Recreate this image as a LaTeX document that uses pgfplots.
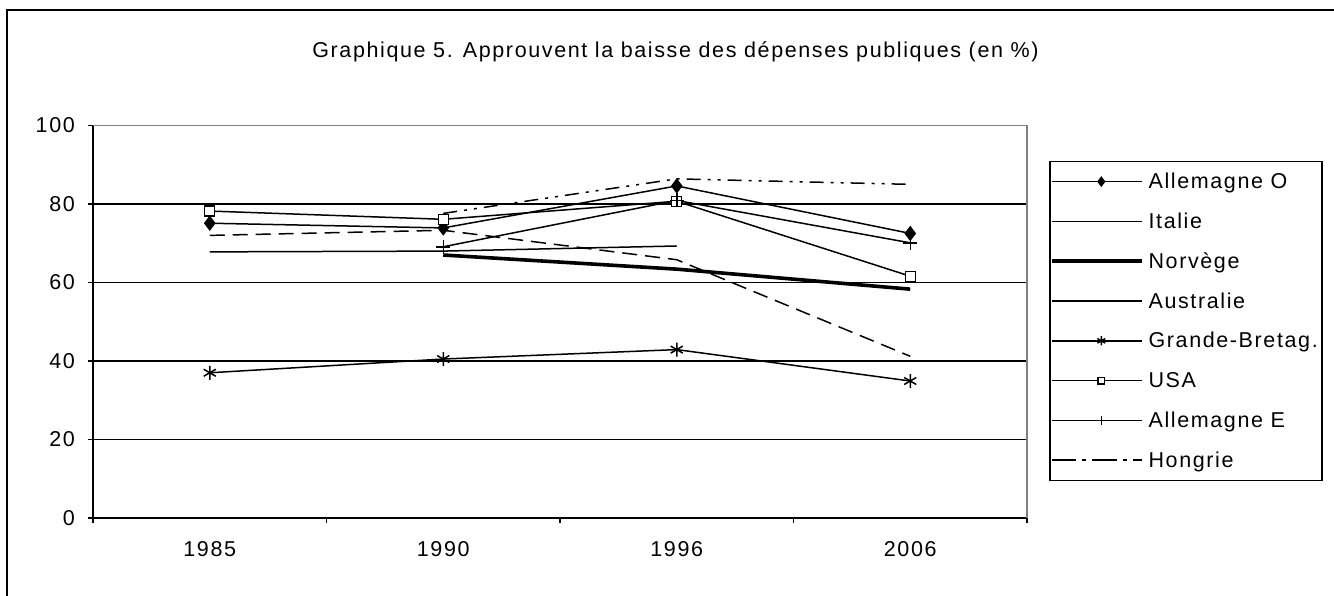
\documentclass[border=0pt]{standalone}
\usepackage{fontspec}
\setmainfont{Liberation Sans}[LetterSpace=7.5]
\usepackage{pgfplots}
\pgfplotsset{compat=1.18}
\newcommand{\chartfont}{\fontsize{21.5}{24}\selectfont}
\begin{document}
\begin{tikzpicture}
\useasboundingbox (0pt,0pt) rectangle (1334pt,596pt);
% outer frame (left and top visible)
\draw[line width=2.2pt] (7pt,0pt) -- (7pt,586pt) -- (1334pt,586pt);
% title
\node[anchor=base, font=\chartfont] at (675.5pt,538pt) {Graphique 5. Approuvent la baisse des dépenses publiques (en \%)};
\begin{axis}[
  at={(93pt,78pt)}, anchor=south west,
  scale only axis, width=934pt, height=392.5pt,
  xmin=-0.5, xmax=3.5, ymin=0, ymax=100,
  clip=false,
  axis x line*=bottom, axis y line*=left,
  axis line style={line width=1.3pt, black, -},
  xtick={-0.5,0.5,1.5,2.5,3.5}, xticklabels={,,,,},
  extra x ticks={0,1,2,3}, extra x tick labels={1985,1990,1996,2006},
  extra x tick style={major tick length=0pt, grid=none},
  ytick={0,20,40,60,80,100},
  ymajorgrids, grid style={black, line width=1.2pt},
  tick align=outside, major tick length=5pt,
  tick style={black, line width=1.2pt},
  /pgf/number format/assume math mode=true,
  tick label style={font=\chartfont},
  xticklabel style={inner sep=0pt, anchor=north, yshift=-23pt},
  yticklabel style={inner sep=0pt, anchor=east, xshift=-13pt},
  legend style={draw=none, fill=none, inner sep=0pt, outer sep=0pt,
    at={(1.02463,0.90777)}, anchor=north west,
    column sep=5pt, row sep=0pt, font=\chartfont,
    nodes={inner sep=0pt, minimum height=39.8pt}},
  legend cell align=left,
  legend image code/.code={
    \path (0pt,0pt) -- (90pt,0pt);
    \draw[mark repeat=2, mark phase=2, #1, every mark/.append style={scale=0.65}]
      plot coordinates {(9pt,0pt) (49.5pt,0pt) (90pt,0pt)};
  },
  every axis plot/.append style={black, line width=1.5pt},
]
% Allemagne O
\addplot[mark=diamond*, mark size=6.5pt, mark options={solid, fill=black}]
  coordinates {(0,75.1) (1,73.9) (2,84.6) (3,72.5)};
\addlegendentry{Allemagne O}
% Italie
\addplot[no marks] coordinates {(0,67.8) (1,68.0) (2,69.3)};
\addlegendentry{Italie}
% Norvege
\addplot[no marks, line width=3.6pt] coordinates {(1,67.0) (2,63.4) (3,58.3)};
\addlegendentry{Norvège}
% Australie
\addplot[no marks, dash pattern=on 15pt off 8pt]
  coordinates {(0,72.0) (1,73.3) (2,65.8) (3,41.2)};
\addlegendentry{Australie}
% Grande-Bretagne
\addplot[mark=asterisk, mark size=7pt, mark options={solid, line width=1.5pt}]
  coordinates {(0,37.0) (1,40.5) (2,42.9) (3,34.9)};
\addlegendentry{Grande-Bretag.}
% USA
\addplot[mark=square*, mark size=5pt, mark options={solid, fill=white, line width=1.4pt}]
  coordinates {(0,78.2) (1,76.1) (2,80.7) (3,61.6)};
\addlegendentry{USA}
% Allemagne E
\addplot[mark=+, mark size=7pt, mark options={solid, line width=1.5pt}]
  coordinates {(1,69.1) (2,80.9) (3,70.1)};
\addlegendentry{Allemagne E}
% Hongrie
\addplot[no marks, dash pattern=on 14pt off 7pt on 3pt off 7pt on 3pt off 7pt]
  coordinates {(1,77.6) (2,86.4) (3,85.0)};
\addlegendentry{Hongrie}
% plot area border (grey top and right)
\draw[gray, line width=1.3pt] (axis cs:-0.5,100) -- (axis cs:3.5,100) -- (axis cs:3.5,0);
\end{axis}
% legend frame
\draw[line width=1.3pt] (1050pt,434.3pt) rectangle (1322pt,115.3pt);
\end{tikzpicture}
\end{document}
